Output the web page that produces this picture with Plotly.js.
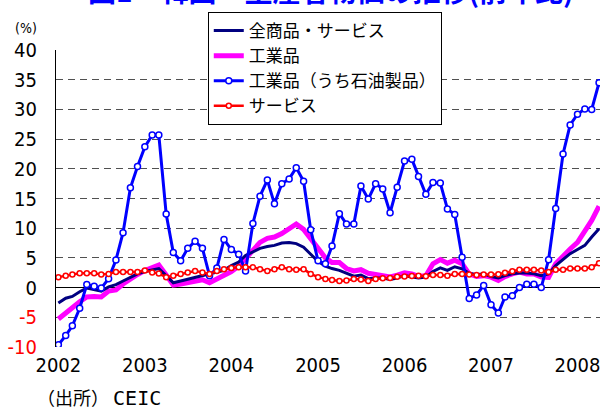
<!DOCTYPE html>
<html>
<head>
<meta charset="utf-8">
<script src="https://cdn.plot.ly/plotly-3.0.1.min.js"></script>
<style>html,body{margin:0;padding:0;background:#fff;}#chart{width:602px;height:409px;}</style>
</head>
<body>
<div id="chart"></div>
<script>
// Monthly data, Jan 2002 - Apr 2008 (% y/y)
const startYear = 2002;
const seriesNames = ['全商品・サービス', '工業品', '工業品（うち石油製品）', 'サービス'];
const allGoodsServices = [
  -2.6,-1.8,-1.5,-0.7,-0.1,-0.3,-0.6,0.1,0.5,1.1,1.7,2.3,
  2.7,3.0,3.2,2.0,0.8,1.1,1.4,1.6,2.0,2.2,2.5,2.9,
  3.7,4.3,5.4,6.0,6.6,6.9,7.1,7.5,7.6,7.4,6.8,5.6,
  4.4,3.6,3.2,2.9,2.45,1.9,2.1,1.5,1.6,1.6,1.35,1.6,
  2.0,1.8,1.6,1.75,2.7,3.3,2.9,3.5,3.15,2.4,2.15,2.3,
  1.85,1.6,2.0,2.3,2.45,2.45,2.3,2.0,2.3,3.7,4.8,5.7,
  6.4,7.1,8.5,9.9
];
const industrial = [
  -5.3,-4.4,-3.4,-2.4,-1.6,-1.5,-1.6,-0.6,-0.4,0.6,1.5,2.2,
  2.85,3.3,3.8,2.1,0.4,0.6,0.8,1.0,1.3,0.8,1.4,2.1,
  2.7,3.6,4.8,6.2,7.6,8.3,8.5,9.1,9.9,10.7,9.8,8.3,
  6.5,5.0,4.2,4.2,3.2,2.8,3.0,2.4,2.2,2.1,1.8,2.1,
  2.5,2.3,1.9,2.0,4.0,4.7,4.1,4.6,4.0,2.3,1.85,2.0,
  1.75,1.2,1.85,2.3,2.6,2.3,2.3,1.75,1.7,4.0,5.4,6.5,
  7.6,9.6,11.3,13.7
];
const petroleum = [
  -9.65,-8.1,-6.45,-3.5,0.5,0.2,-0.1,1.5,4.65,9.25,16.8,20.4,
  23.7,25.7,25.7,12.4,5.9,4.5,6.6,7.8,6.6,2.0,3.3,8.1,
  6.4,5.6,2.8,10.8,15.4,18.1,14.1,17.5,18.3,20.2,17.9,9.75,
  4.5,4.0,7.0,12.45,10.7,10.7,17.1,14.9,17.5,16.6,12.6,16.9,
  21.3,21.6,18.7,15.7,17.7,17.6,13.25,12.3,5.1,-1.85,-1.25,0.35,
  -2.9,-4.3,-1.6,-1.4,0.0,0.55,0.55,0.0,4.7,13.3,22.5,27.4,
  29.2,30.1,30.0,34.5
];
const services = [
  1.75,2.0,2.2,2.4,2.4,2.4,2.2,2.3,2.6,2.6,2.6,2.6,
  2.85,2.55,2.35,1.75,2.0,2.3,2.55,2.8,2.55,2.3,2.8,3.1,
  3.3,3.4,3.4,3.4,3.1,2.8,3.1,3.4,3.1,3.0,3.1,2.3,
  1.75,1.45,1.25,1.1,1.2,1.45,1.35,1.1,1.45,1.55,1.6,1.8,
  1.85,1.95,2.0,1.9,2.1,2.1,2.0,2.3,2.3,2.2,2.1,2.2,
  2.2,2.25,2.5,2.75,3.0,3.0,3.0,2.85,2.6,3.0,3.0,3.2,
  3.2,3.2,3.4,4.1
];
const yTickVals = [-10,-5,0,5,10,15,20,25,30,35,40];

const months = allGoodsServices.map((_, i) => {
  const y = startYear + Math.floor(i / 12);
  const m = (i % 12) + 1;
  return y + '-' + (m < 10 ? '0' + m : m) + '-01';
});
const yTickText = yTickVals.map(v => v < 0 ? '<span style="color:#ff0000">' + v + '</span>' : String(v));

const numFont = '"Liberation Sans Narrow", "Arial Narrow", "DejaVu Sans Condensed", sans-serif';
const jpFont = '"Noto Sans CJK JP", sans-serif';
const xRange = ['2001-12-22', '2008-04-05'];

const traces = [
  {x: months, y: industrial, name: seriesNames[1], type: 'scatter', mode: 'lines',
   line: {color: '#ff00ff', width: 5}, legendrank: 2},
  {x: months, y: allGoodsServices, name: seriesNames[0], type: 'scatter', mode: 'lines',
   line: {color: '#000080', width: 3}, legendrank: 1},
  {x: months, y: petroleum, name: seriesNames[2], type: 'scatter', mode: 'lines+markers',
   line: {color: '#0000ff', width: 3},
   marker: {symbol: 'circle', size: 6, color: '#ffffff', line: {color: '#0000ff', width: 1.5}}, legendrank: 3},
  {x: months, y: services, name: seriesNames[3], type: 'scatter', mode: 'lines+markers',
   line: {color: '#ff0000', width: 2.5},
   marker: {symbol: 'circle', size: 5, color: '#ffffff', line: {color: '#ff0000', width: 1.5}}, legendrank: 4}
];

const layout = {
  width: 602, height: 409,
  margin: {l: 56, r: 2, t: 50, b: 62},
  paper_bgcolor: '#ffffff', plot_bgcolor: '#ffffff',
  showlegend: true,
  legend: {
    x: 0.279, y: 1.128, xanchor: 'left', yanchor: 'top',
    bgcolor: '#ffffff', bordercolor: '#000000', borderwidth: 1,
    font: {family: jpFont, size: 17, color: '#000000'},
    itemwidth: 30, tracegroupgap: 0
  },
  xaxis: {
    type: 'date', range: xRange,
    tick0: '2002-01-01', dtick: 'M12', tickformat: '%Y',
    showgrid: false, zeroline: false, showline: false, ticks: '',
    tickfont: {family: numFont, size: 20, color: '#000000'},
    ticklabelstandoff: 4
  },
  xaxis2: {
    type: 'date', range: xRange, overlaying: 'x', anchor: 'free', position: 0.2,
    tick0: '2002-01-01', dtick: 'M12', ticks: 'inside', ticklen: 6, tickcolor: '#000000',
    showticklabels: false, showgrid: false, zeroline: false, showline: false
  },
  yaxis: {
    range: [-10.02, 40.02], tickvals: yTickVals, ticktext: yTickText,
    showgrid: true, gridcolor: '#505050', gridwidth: 1, griddash: '7px,5px',
    zeroline: true, zerolinecolor: '#000000', zerolinewidth: 1,
    showline: true, linecolor: '#000000', linewidth: 1,
    ticks: '', ticklabelstandoff: 14,
    tickfont: {family: numFont, size: 20, color: '#000000'}
  },
  annotations: [
    {text: '<b>図1　韓国　生産者物価の推移(前年比)</b>', xref: 'paper', yref: 'paper', x: 0.506, y: 1,
     xanchor: 'center', yanchor: 'middle', yshift: 60, showarrow: false,
     font: {family: jpFont, size: 28, color: '#0000ff'}},
    {text: '(%)', xref: 'paper', yref: 'paper', x: 0, y: 1, xanchor: 'center', yanchor: 'middle',
     xshift: -30, yshift: 22, showarrow: false,
     font: {family: numFont, size: 14, color: '#000000'}},
    {text: '（出所） <span style="font-family:\'DejaVu Sans Mono\', monospace; font-size:20px">CEIC</span>', xref: 'paper', yref: 'paper', x: 0, y: 0, xanchor: 'left', yanchor: 'middle',
     xshift: -21, yshift: -50, showarrow: false,
     font: {family: jpFont, size: 18, color: '#000000'}}
  ]
};

Plotly.newPlot('chart', traces, layout, {displayModeBar: false, staticPlot: true});
</script>
</body>
</html>
